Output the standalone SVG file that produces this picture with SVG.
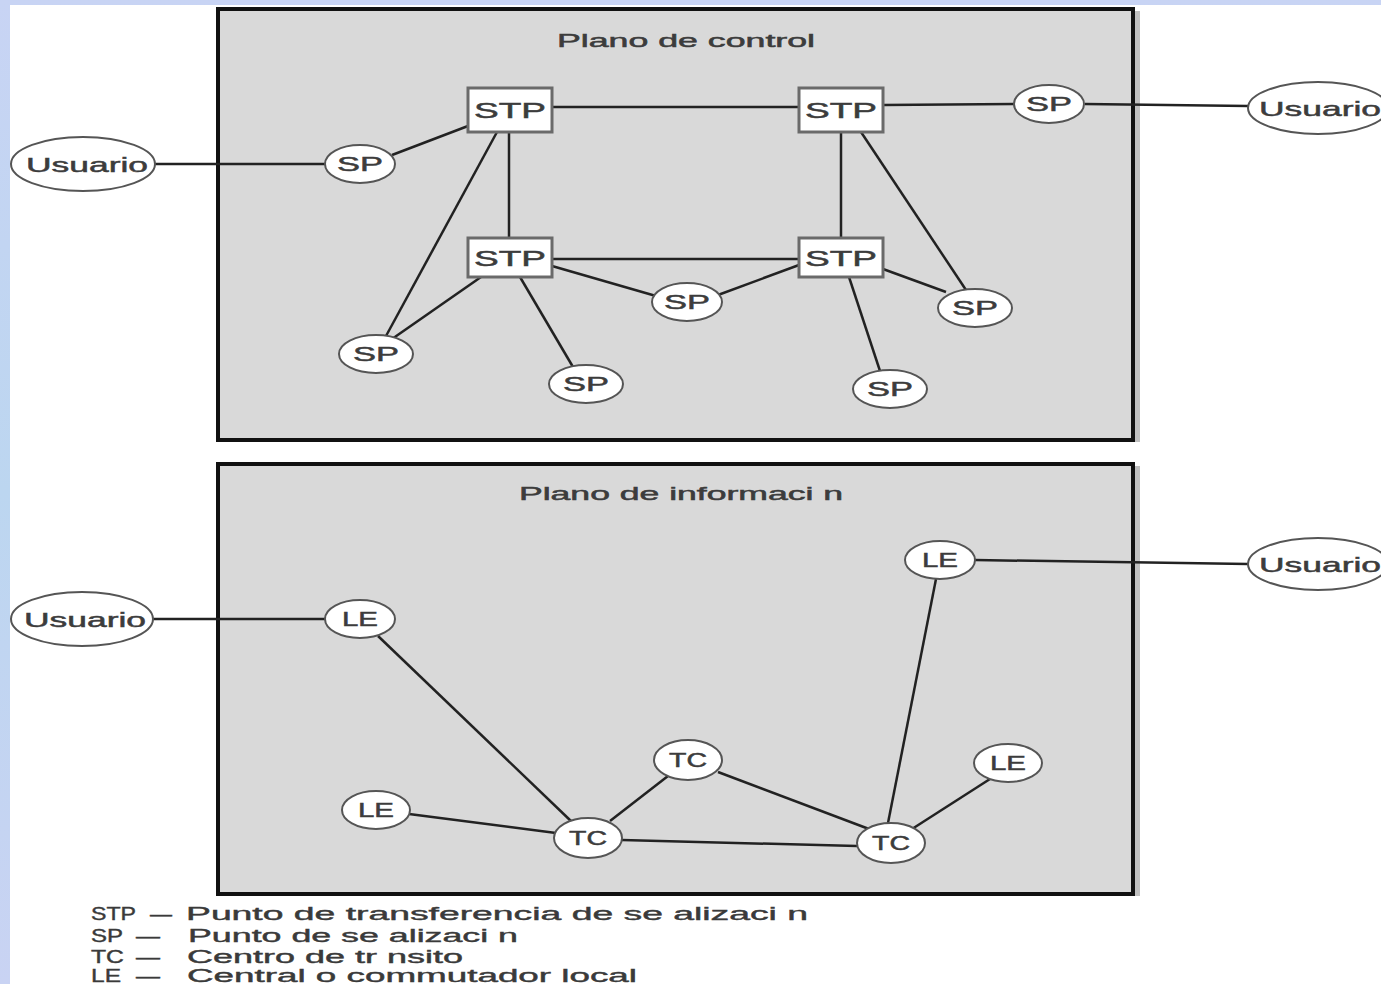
<svg xmlns="http://www.w3.org/2000/svg" width="1381" height="984" viewBox="0 0 1381 984">
<defs>
<linearGradient id="bg" x1="0" y1="0" x2="0" y2="1">
<stop offset="0" stop-color="#c8d4f4"/><stop offset="0.5" stop-color="#bcd6f0"/><stop offset="1" stop-color="#c9d3f3"/>
</linearGradient>
<style>
.panel{fill:#d9d9d9;stroke:#111;stroke-width:4}
.shadow{fill:#c0c0c0}
.box{fill:#fff;stroke:#6a6a6a;stroke-width:3}
.ell{fill:#fff;stroke:#555;stroke-width:2}
.lbl{font-family:"Liberation Sans",Arial,sans-serif;fill:#3c3c3c;stroke:#3c3c3c;stroke-width:0.5;text-anchor:middle}
.leg{font-family:"Liberation Sans",Arial,sans-serif;fill:#3a3a3a;stroke:#3a3a3a;stroke-width:0.4;font-size:18px}
.edge{stroke:#222;stroke-width:2.5;fill:none}
</style>
</defs>
<rect x="0" y="0" width="1381" height="984" fill="url(#bg)"/>
<rect x="10" y="5" width="1371" height="979" fill="#fff"/>

<g id="panel-control">
<rect class="shadow" x="1135" y="11" width="5" height="431"/>
<rect class="panel" x="218" y="9" width="915" height="431"/>
<text class="lbl" x="686" y="47" font-size="18" textLength="258" lengthAdjust="spacingAndGlyphs">Plano de control</text>
</g>
<g id="panel-info">
<rect class="shadow" x="1135" y="466" width="5" height="430"/>
<rect class="panel" x="218" y="464" width="915" height="430"/>
<text class="lbl" x="681" y="500" font-size="18" textLength="324" lengthAdjust="spacingAndGlyphs">Plano de informaci n</text>
</g>

<g id="connectors">
<line class="edge" x1="155" y1="164" x2="325" y2="164"/>
<line class="edge" x1="392" y1="155" x2="468" y2="126"/>
<line class="edge" x1="552" y1="107" x2="799" y2="107"/>
<line class="edge" x1="883" y1="105" x2="1014" y2="104"/>
<line class="edge" x1="1085" y1="104" x2="1248" y2="106"/>
<line class="edge" x1="509" y1="132" x2="509" y2="238"/>
<line class="edge" x1="841" y1="132" x2="841" y2="238"/>
<line class="edge" x1="552" y1="259" x2="799" y2="259"/>
<line class="edge" x1="497" y1="132" x2="386" y2="336"/>
<line class="edge" x1="481" y1="277" x2="392" y2="339"/>
<line class="edge" x1="520" y1="277" x2="573" y2="367"/>
<line class="edge" x1="552" y1="266" x2="656" y2="296"/>
<line class="edge" x1="799" y1="265" x2="718" y2="295"/>
<line class="edge" x1="883" y1="269" x2="946" y2="292"/>
<line class="edge" x1="861" y1="132" x2="966" y2="290"/>
<line class="edge" x1="849" y1="277" x2="880" y2="371"/>
<line class="edge" x1="153" y1="619" x2="325" y2="619"/>
<line class="edge" x1="975" y1="560" x2="1248" y2="564"/>
<line class="edge" x1="378" y1="636" x2="572" y2="822"/>
<line class="edge" x1="409" y1="814" x2="556" y2="833"/>
<line class="edge" x1="610" y1="821" x2="668" y2="776"/>
<line class="edge" x1="718" y1="772" x2="869" y2="829"/>
<line class="edge" x1="622" y1="840" x2="857" y2="846"/>
<line class="edge" x1="936" y1="579" x2="888" y2="823"/>
<line class="edge" x1="912" y1="829" x2="990" y2="779"/>
</g>

<g id="usuario-top-left"><ellipse class="ell" cx="83" cy="164" rx="72" ry="27"/><text class="lbl" x="87" y="172" font-size="21" textLength="122" lengthAdjust="spacingAndGlyphs">Usuario</text></g>
<g id="usuario-top-right"><ellipse class="ell" cx="1318" cy="108" rx="70" ry="26"/><text class="lbl" x="1320" y="116" font-size="21" textLength="122" lengthAdjust="spacingAndGlyphs">Usuario</text></g>
<g id="usuario-bottom-left"><ellipse class="ell" cx="82" cy="619" rx="71" ry="27"/><text class="lbl" x="85" y="627" font-size="21" textLength="122" lengthAdjust="spacingAndGlyphs">Usuario</text></g>
<g id="usuario-bottom-right"><ellipse class="ell" cx="1318" cy="564" rx="70" ry="26"/><text class="lbl" x="1320" y="572" font-size="21" textLength="122" lengthAdjust="spacingAndGlyphs">Usuario</text></g>

<g id="stp-tl"><rect class="box" x="468" y="88" width="84" height="44"/><text class="lbl" x="510" y="118" font-size="22" textLength="72" lengthAdjust="spacingAndGlyphs">STP</text></g>
<g id="stp-tr"><rect class="box" x="799" y="88" width="84" height="44"/><text class="lbl" x="841" y="118" font-size="22" textLength="72" lengthAdjust="spacingAndGlyphs">STP</text></g>
<g id="stp-bl"><rect class="box" x="468" y="238" width="84" height="39"/><text class="lbl" x="510" y="266" font-size="22" textLength="72" lengthAdjust="spacingAndGlyphs">STP</text></g>
<g id="stp-br"><rect class="box" x="799" y="238" width="84" height="39"/><text class="lbl" x="841" y="266" font-size="22" textLength="72" lengthAdjust="spacingAndGlyphs">STP</text></g>

<g id="sp-1"><ellipse class="ell" cx="360" cy="164" rx="35" ry="19"/><text class="lbl" x="360" y="171" font-size="20" textLength="46" lengthAdjust="spacingAndGlyphs">SP</text></g>
<g id="sp-2"><ellipse class="ell" cx="1049" cy="104" rx="35" ry="19"/><text class="lbl" x="1049" y="111" font-size="20" textLength="46" lengthAdjust="spacingAndGlyphs">SP</text></g>
<g id="sp-3"><ellipse class="ell" cx="376" cy="354" rx="37" ry="19"/><text class="lbl" x="376" y="361" font-size="20" textLength="46" lengthAdjust="spacingAndGlyphs">SP</text></g>
<g id="sp-4"><ellipse class="ell" cx="586" cy="384" rx="37" ry="19"/><text class="lbl" x="586" y="391" font-size="20" textLength="46" lengthAdjust="spacingAndGlyphs">SP</text></g>
<g id="sp-5"><ellipse class="ell" cx="687" cy="302" rx="35" ry="19"/><text class="lbl" x="687" y="309" font-size="20" textLength="46" lengthAdjust="spacingAndGlyphs">SP</text></g>
<g id="sp-6"><ellipse class="ell" cx="975" cy="308" rx="37" ry="19"/><text class="lbl" x="975" y="315" font-size="20" textLength="46" lengthAdjust="spacingAndGlyphs">SP</text></g>
<g id="sp-7"><ellipse class="ell" cx="890" cy="389" rx="37" ry="19"/><text class="lbl" x="890" y="396" font-size="20" textLength="46" lengthAdjust="spacingAndGlyphs">SP</text></g>

<g id="le-1"><ellipse class="ell" cx="360" cy="619" rx="35" ry="19"/><text class="lbl" x="360" y="626" font-size="20" textLength="36" lengthAdjust="spacingAndGlyphs">LE</text></g>
<g id="le-2"><ellipse class="ell" cx="940" cy="560" rx="35" ry="19"/><text class="lbl" x="940" y="567" font-size="20" textLength="36" lengthAdjust="spacingAndGlyphs">LE</text></g>
<g id="le-3"><ellipse class="ell" cx="376" cy="810" rx="34" ry="19"/><text class="lbl" x="376" y="817" font-size="20" textLength="36" lengthAdjust="spacingAndGlyphs">LE</text></g>
<g id="le-4"><ellipse class="ell" cx="1008" cy="763" rx="34" ry="19"/><text class="lbl" x="1008" y="770" font-size="20" textLength="36" lengthAdjust="spacingAndGlyphs">LE</text></g>
<g id="tc-1"><ellipse class="ell" cx="588" cy="838" rx="34" ry="20"/><text class="lbl" x="588" y="845" font-size="20" textLength="38" lengthAdjust="spacingAndGlyphs">TC</text></g>
<g id="tc-2"><ellipse class="ell" cx="688" cy="760" rx="34" ry="20"/><text class="lbl" x="688" y="767" font-size="20" textLength="38" lengthAdjust="spacingAndGlyphs">TC</text></g>
<g id="tc-3"><ellipse class="ell" cx="891" cy="843" rx="34" ry="20"/><text class="lbl" x="891" y="850" font-size="20" textLength="38" lengthAdjust="spacingAndGlyphs">TC</text></g>

<g id="legend">
<text class="leg" x="91" y="920" textLength="45" lengthAdjust="spacingAndGlyphs">STP</text>
<text class="leg" x="150" y="920" textLength="22" lengthAdjust="spacingAndGlyphs">—</text>
<text class="leg" x="186" y="920" textLength="622" lengthAdjust="spacingAndGlyphs">Punto de transferencia de se alizaci n</text>
<text class="leg" x="91" y="942" textLength="32" lengthAdjust="spacingAndGlyphs">SP</text>
<text class="leg" x="136" y="942" textLength="24" lengthAdjust="spacingAndGlyphs">—</text>
<text class="leg" x="188" y="942" textLength="330" lengthAdjust="spacingAndGlyphs">Punto de se alizaci n</text>
<text class="leg" x="91" y="963" textLength="33" lengthAdjust="spacingAndGlyphs">TC</text>
<text class="leg" x="136" y="963" textLength="24" lengthAdjust="spacingAndGlyphs">—</text>
<text class="leg" x="187" y="963" textLength="276" lengthAdjust="spacingAndGlyphs">Centro de tr nsito</text>
<text class="leg" x="91" y="982" textLength="30" lengthAdjust="spacingAndGlyphs">LE</text>
<text class="leg" x="136" y="982" textLength="24" lengthAdjust="spacingAndGlyphs">—</text>
<text class="leg" x="187" y="982" textLength="450" lengthAdjust="spacingAndGlyphs">Central o commutador local</text>
</g>
</svg>
